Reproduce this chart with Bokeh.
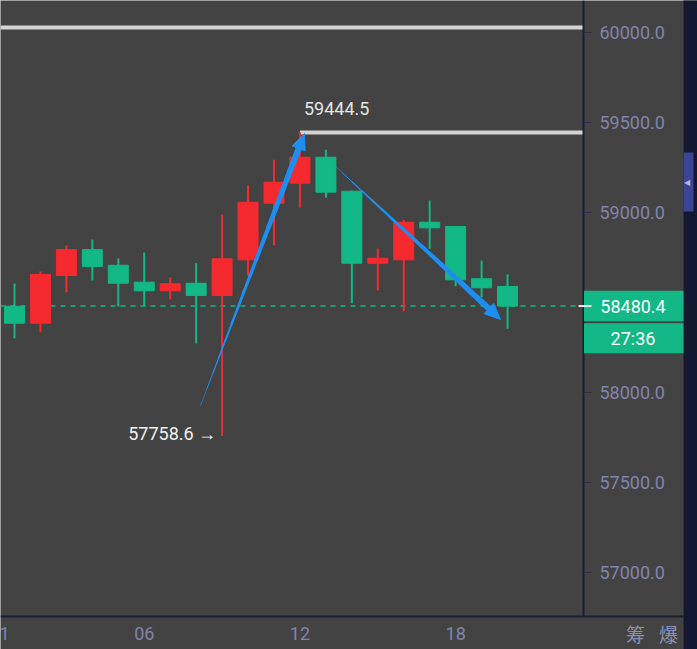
import numpy as np
from bokeh.plotting import figure
from bokeh.models import Range1d
from bokeh.core.properties import value
from bokeh.embed import file_html
from bokeh.resources import INLINE

# ---------------- data ----------------
hours = list(range(1, 21))
opens = [58479, 58385, 58650, 58794, 58707, 58613, 58565, 58607, 58539, 58737,
         59052, 59163, 59307, 59118, 58718, 58737, 58946, 58922, 58632, 58589]
highs = [58606, 58672, 58817, 58850, 58744, 58778, 58639, 58718, 58989, 59150,
         59293, 59444.5, 59348, 59122, 58798, 58959, 59067, 58922, 58733, 58656]
lows = [58300, 58335, 58557, 58622, 58478, 58478, 58518, 58272, 57758.6, 58650,
        58817, 59028, 59082, 58496, 58567, 58452, 58798, 58591, 58529, 58354]
closes = [58385, 58656, 58794, 58700, 58607, 58565, 58604, 58539, 58743, 59057,
          59168, 59307, 59113, 58718, 58746, 58946, 58915, 58626, 58582, 58480.4]

price_ticks = [57000, 57500, 58000, 58500, 59000, 59500, 60000]
price_labels = ["57000.0", "57500.0", "58000.0", "58500.0", "59000.0", "59500.0", "60000.0"]
time_ticks = [0.62, 6, 12, 18]
time_labels = ["1", "06", "12", "18"]

last_price = 58480.4
countdown = "27:36"
high_label = "59444.5"
low_label = "57758.6"
high_hour, high_price = 12, 59444.5
low_hour, low_price = 9, 57758.6
top_level = 60028
side_texts = ["筹", "爆"]

# drawn trend arrows: (start hour, start price, end hour, end price)
arrow_up = (8.17, 57928, 12.17, 59439)
arrow_down = (13.25, 59272, 19.73, 58406)

# ---------------- style ----------------
BG = "#434343"
NAVY = "#1b1f36"
STRIP = "#141830"
RED = "#f52a2f"
GREEN = "#12b886"
BLUE = "#1e8ff0"
TICK_C = "#8184ab"
FONT = "Roboto"

px_x = 25.95          # px per hour
px_y = 0.18           # px per price unit
x0 = 0.4605           # hour at the left edge
y1 = 60177.8          # price at the top edge
W, H = 697, 649


def hx(px):
    return x0 + px / px_x


def py(px):
    return y1 - px / px_y


chart_right = hx(583)      # right end of the candle area (hours)
chart_bottom = py(616)     # bottom of the candle area (price)
panel_right = hx(683)

p = figure(width=W, height=H, output_backend="svg", toolbar_location=None,
           x_range=Range1d(x0, hx(W)), y_range=Range1d(py(H), y1),
           min_border=0, x_axis_type=None, y_axis_type=None)
p.background_fill_color = BG
p.border_fill_color = BG
p.outline_line_color = None
p.grid.visible = False

# ---------------- candle area ----------------
# level lines
p.segment(x0=[x0], y0=[top_level], x1=[chart_right], y1=[top_level],
          line_color="#d4d4d4", line_width=4)
p.segment(x0=[high_hour], y0=[high_price], x1=[chart_right], y1=[high_price],
          line_color="#d4d4d4", line_width=4)
p.segment(x0=[x0], y0=[last_price], x1=[chart_right], y1=[last_price],
          line_color=GREEN, line_width=1.5, line_dash="5 5")

# candles
colors = [RED if c >= o else GREEN for o, c in zip(opens, closes)]
tops = [max(o, c) for o, c in zip(opens, closes)]
bots = [min(o, c) for o, c in zip(opens, closes)]
p.segment(x0=hours, y0=lows, x1=hours, y1=highs, line_color=colors, line_width=2)
p.vbar(x=hours, top=tops, bottom=bots, width=0.77, fill_color=colors, line_color=colors)


# tapered arrows
def tapered(a, n=16, w0=0.6, w1=6.0, hl=16, hw=7.0):
    hx0, py0, hx1, py1 = a
    dx = (hx1 - hx0) * px_x
    dy = (py1 - py0) * px_y
    L = np.hypot(dx, dy)
    t_end = 1 - (hl - 3) / L
    t = np.linspace(0, t_end, n + 1)
    xs = hx0 + (hx1 - hx0) * t
    ys = py0 + (py1 - py0) * t
    widths = np.linspace(w0, w1, n)
    p.segment(x0=xs[:-1], y0=ys[:-1], x1=xs[1:], y1=ys[1:], line_color=BLUE,
              line_width=widths, line_cap="round")
    ux, uy = dx / L, dy / L
    bx, by = -ux * hl, -uy * hl
    pts_px = [(0, 0), (bx - uy * hw, by + ux * hw), (bx + uy * hw, by - ux * hw)]
    xs_h = [hx1 + q[0] / px_x for q in pts_px]
    ys_h = [py1 + q[1] / px_y for q in pts_px]
    p.patch(xs_h, ys_h, fill_color=BLUE, line_color=BLUE, line_width=1)


tapered(arrow_up)
tapered(arrow_down)

# hi / lo labels
p.text(x=[high_hour], y=[high_price], text=[high_label], x_offset=4, y_offset=-24,
       text_baseline="middle", text_align="left", text_color="#e6e6e6",
       text_font=value(FONT), text_font_size="18px")
p.text(x=[low_hour], y=[low_price], text=[low_label + " →"], x_offset=-6, y_offset=-2,
       text_baseline="middle", text_align="right", text_color="#f2f2f2",
       text_font=value(FONT), text_font_size="18px")

# ---------------- price axis panel ----------------
p.segment(x0=[chart_right], y0=[chart_bottom], x1=[chart_right], y1=[y1],
          line_color=NAVY, line_width=2)
p.segment(x0=[x0], y0=[chart_bottom], x1=[panel_right], y1=[chart_bottom],
          line_color=NAVY, line_width=2)
p.segment(x0=[chart_right] * len(price_ticks), y0=price_ticks,
          x1=[hx(591)] * len(price_ticks), y1=price_ticks,
          line_color="#2a2e48", line_width=1)
p.text(x=[hx(599)] * len(price_ticks), y=price_ticks, text=price_labels,
       text_baseline="middle", text_align="left", text_color=TICK_C,
       text_font=value(FONT), text_font_size="18px")

# time axis labels
p.text(x=time_ticks, y=[py(633)] * len(time_ticks), text=time_labels,
       text_baseline="middle", text_align="center", text_color=TICK_C,
       text_font=value(FONT), text_font_size="18px")

# right dark strip and tab
p.quad(left=[panel_right], right=[hx(W + 5)], top=[py(-5)], bottom=[py(H + 5)],
       fill_color=STRIP, line_color=None)
p.quad(left=[panel_right], right=[hx(693)], top=[py(152)], bottom=[py(211)],
       fill_color="#3a4594", line_color=None)
p.text(x=[hx(686.5)], y=[py(182)], text=["◀"], text_color="#aeb4e0",
       text_font_size="8px", text_align="center", text_baseline="middle")

# last-price boxes
half = 15.3 / px_y
p.quad(left=[hx(583.5)], right=[panel_right], top=[last_price + half],
       bottom=[last_price - half], fill_color=GREEN, line_color=None)
p.quad(left=[hx(583.5)], right=[panel_right], top=[last_price - half - 2 / px_y],
       bottom=[last_price - half - 32 / px_y], fill_color=GREEN, line_color=None)
p.segment(x0=[hx(578)], y0=[last_price], x1=[hx(591)], y1=[last_price],
          line_color="#e8e8e8", line_width=2)
p.text(x=[hx(632.5)], y=[last_price], text=[f"{last_price:.1f}"], text_color="white",
       text_font=value(FONT), text_font_size="18px", text_align="center",
       text_baseline="middle")
p.text(x=[hx(632.5)], y=[last_price - half - 17 / px_y], text=[countdown],
       text_color="white", text_font=value(FONT), text_font_size="18px",
       text_align="center", text_baseline="middle")

# bottom right texts
p.text(x=[hx(635), hx(668)], y=[py(633)] * 2, text=side_texts, text_color="#8c90b8",
       text_font=value("Noto Sans CJK SC"), text_font_size="19px",
       text_align="center", text_baseline="middle")

open("out.html", "w").write(file_html(p, INLINE))
